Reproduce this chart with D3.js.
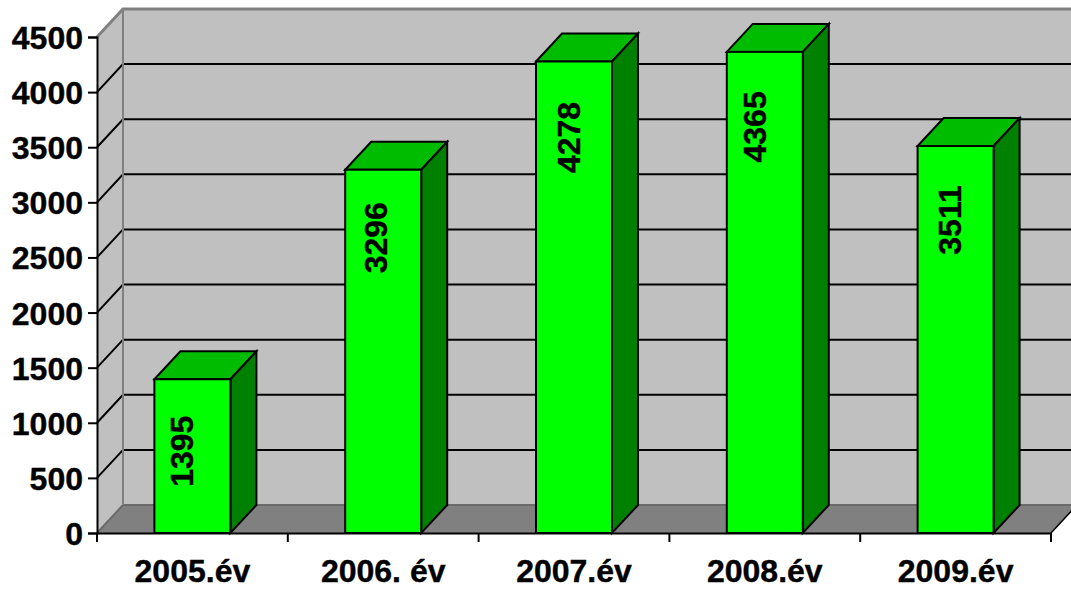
<!DOCTYPE html>
<html>
<head>
<meta charset="utf-8">
<script src="https://cdn.jsdelivr.net/npm/d3@7"></script>
<style>
	html, body { margin: 0; padding: 0; background: #fff; overflow: hidden; }
	svg { display: block; }
	text { font-family: "Liberation Sans", Arial, sans-serif; font-weight: bold; fill: #000; stroke: #000; stroke-width: 0.4px; }
</style>
</head>
<body>
<div id="canvas"></div>
<script>
var categories = [ '2005.év', '2006. év', '2007.év', '2008.év', '2009.év' ];
var values = [ 1395, 3296, 4278, 4365, 3511 ];
var yTicks = [ 0, 500, 1000, 1500, 2000, 2500, 3000, 3500, 4000, 4500 ];

document.addEventListener('DOMContentLoaded', function(e) {

	var width = 1071,
		height = 592,
		left = 97,
		right = 1051,
		bottom = 533,
		top = 37,
		depthX = 26,
		depthY = 28,
		barWidth = 76,
		gridColor = '#808080',
		// the value labels sit by hand in the original, not at a fixed spot in the bar
		labelNudgeX = [ -3, 0, 2, -3, 1 ],
		labelNudgeY = [ 0, -4, 4, 3, 2 ],
		svg = d3.select('#canvas').append('svg').attr('width', width).attr('height', height);

	var x = d3.scaleBand().domain(categories).range([left, right]);
	var y = d3.scaleLinear().domain([0, 4500]).range([bottom, top]);

	function poly(points) {
		return 'M' + points.map(function(p) { return p.join(','); }).join('L') + 'Z';
	}

	// Walls and floor
	svg.append('path')
		.attr('d', poly([[left, top], [left + depthX, top - depthY], [left + depthX, bottom - depthY], [left, bottom]]))
		.attr('fill', '#c0c0c0');
	svg.append('rect')
		.attr('x', left + depthX).attr('y', top - depthY)
		.attr('width', width - left - depthX).attr('height', bottom - top)
		.attr('fill', '#c0c0c0');
	svg.append('path')
		.attr('d', poly([[left, bottom], [left + depthX, bottom - depthY], [right + depthX, bottom - depthY], [right, bottom]]))
		.attr('fill', '#808080');

	// Gridlines, running back along the side wall then across the back wall
	yTicks.forEach(function(t) {
		var yy = y(t);
		svg.append('path')
			.attr('d', 'M' + left + ',' + yy + 'L' + (left + depthX) + ',' + (yy - depthY) + 'L' + (width + 2) + ',' + (yy - depthY))
			.attr('fill', 'none')
			.attr('stroke', t === 0 ? '#6a6a6a' : t === 4500 ? gridColor : '#000')
			.attr('stroke-width', (t === 4500) ? 3 : 2);
	});
	svg.append('line')
		.attr('x1', left + depthX).attr('x2', left + depthX)
		.attr('y1', top - depthY).attr('y2', bottom - depthY)
		.attr('stroke', gridColor).attr('stroke-width', 2);
	svg.append('line')
		.attr('x1', right).attr('y1', bottom)
		.attr('x2', right + depthX).attr('y2', bottom - depthY)
		.attr('stroke', '#000').attr('stroke-width', 1.5);

	// Bars
	var bars = svg.selectAll('g.bar')
		.data(values)
		.enter()
		.append('g')
		.attr('class', 'bar')
		.attr('transform', function(d, i) {
			return 'translate(' + (x(categories[i]) + x.bandwidth() / 2 - barWidth / 2) + ',0)';
		});
	bars.append('path')
		.attr('d', function(d) {
			return poly([[0, y(d)], [depthX, y(d) - depthY], [barWidth + depthX, y(d) - depthY], [barWidth, y(d)]]);
		})
		.attr('fill', '#00bc00');
	bars.append('path')
		.attr('d', function(d) {
			return poly([[barWidth, y(d)], [barWidth + depthX, y(d) - depthY], [barWidth + depthX, bottom - depthY], [barWidth, bottom]]);
		})
		.attr('fill', '#008000');
	bars.append('rect')
		.attr('x', 0)
		.attr('y', function(d) { return y(d); })
		.attr('width', barWidth)
		.attr('height', function(d) { return bottom - y(d); })
		.attr('fill', '#00ff00');
	bars.selectAll('path, rect')
		.attr('stroke', '#000')
		.attr('stroke-width', 2)
		.attr('stroke-linejoin', 'miter');

	// Value labels, turned on their side
	bars.append('text')
		.attr('transform', function(d, i) {
			return 'translate(' + (barWidth / 2 + 4 + labelNudgeX[i]) + ',' + (y(d) + 72 + labelNudgeY[i]) + ') rotate(-90)';
		})
		.attr('text-anchor', 'middle')
		.attr('font-size', 32)
		.text(function(d) { return d; });

	// Axes
	var yAxis = svg.append('g')
		.attr('transform', 'translate(' + left + ',0)')
		.call(d3.axisLeft(y).tickValues(yTicks).tickSize(9).tickPadding(5).tickFormat(d3.format('d')));
	var xAxis = svg.append('g')
		.attr('transform', 'translate(0,' + bottom + ')')
		.call(d3.axisBottom(x).tickSize(0).tickPadding(26));
	xAxis.selectAll('.tick text').attr('dy', '0.71em');
	yAxis.selectAll('.tick text').attr('dy', '0.36em');

	// d3 band axes tick the band centre; the chart ticks the band edges
	xAxis.selectAll('line.edge')
		.data(d3.range(categories.length + 1))
		.enter()
		.append('line')
		.attr('class', 'edge')
		.attr('x1', function(i) { return left + i * x.step(); })
		.attr('x2', function(i) { return left + i * x.step(); })
		.attr('y1', 0)
		.attr('y2', 9)
		.attr('stroke', '#000')
		.attr('stroke-width', 2);

	[yAxis, xAxis].forEach(function(a) {
		a.attr('font-family', null).attr('font-size', null);
		a.selectAll('.domain').attr('stroke', '#000').attr('stroke-width', 2);
		a.selectAll('.tick line').attr('stroke', '#000').attr('stroke-width', 2);
		a.selectAll('text').attr('font-size', 32);
	});

});
</script>
</body>
</html>
